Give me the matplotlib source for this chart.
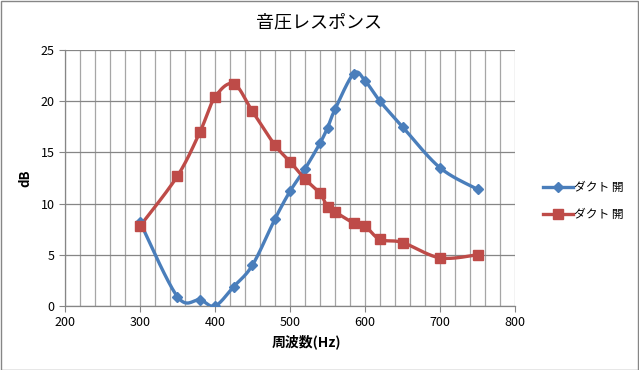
import numpy as np
import matplotlib
matplotlib.use("Agg")
import matplotlib.pyplot as plt
from matplotlib.ticker import MultipleLocator
from matplotlib.patches import Rectangle
from matplotlib.lines import Line2D

plt.rcParams['font.family'] = ['Noto Sans CJK JP', 'DejaVu Sans']

title = "音圧レスポンス"
xlabel = "周波数(Hz)"
ylabel = "dB"
series_names = ["ダクト 開", "ダクト 開"]

freq = [300, 350, 380, 400, 425, 450, 480, 500, 520, 540, 550, 560, 585, 600, 620, 650, 700, 750]
open_db = [8.2, 0.9, 0.6, 0.0, 1.9, 4.0, 8.5, 11.2, 13.4, 15.9, 17.4, 19.2, 22.7, 22.0, 20.0, 17.5, 13.5, 11.4]
closed_db = [7.8, 12.7, 17.0, 20.4, 21.7, 19.0, 15.7, 14.1, 12.4, 11.0, 9.7, 9.2, 8.1, 7.8, 6.5, 6.2, 4.7, 5.0]

colors = ["#4A7EBB", "#BE4B48"]
markers = ["D", "s"]
msizes = [5.5, 7.5]


def smooth(x, y, n=20):
    # Excel-style smoothed line: cubic Bezier with Catmull-Rom control points
    P = np.column_stack([x, y]).astype(float)
    out = []
    m = len(P)
    for i in range(m - 1):
        p0 = P[i - 1] if i > 0 else P[i]
        p1 = P[i]
        p2 = P[i + 1]
        p3 = P[i + 2] if i + 2 < m else P[i + 1]
        c1 = p1 + (p2 - p0) / 6.0
        c2 = p2 - (p3 - p1) / 6.0
        t = np.linspace(0, 1, n, endpoint=(i == m - 2))[:, None]
        seg = ((1 - t) ** 3) * p1 + 3 * ((1 - t) ** 2) * t * c1 + 3 * (1 - t) * t ** 2 * c2 + t ** 3 * p2
        out.append(seg)
    S = np.vstack(out)
    return S[:, 0], S[:, 1]


fig = plt.figure(figsize=(6.39, 3.70), dpi=100)
ax = fig.add_axes([65 / 639, 1 - 306 / 370, 450 / 639, 256 / 370])

ax.set_xlim(200, 800)
ax.set_ylim(0, 25)
ax.xaxis.set_major_locator(MultipleLocator(100))
ax.xaxis.set_minor_locator(MultipleLocator(20))
ax.yaxis.set_major_locator(MultipleLocator(5))

ax.grid(which='minor', axis='x', color='#A6A6A6', linewidth=0.9)
ax.grid(which='major', axis='x', color='#A6A6A6', linewidth=0.9)
ax.grid(which='major', axis='y', color='#868686', linewidth=0.9)
ax.set_axisbelow(True)

for s in ['top', 'right']:
    ax.spines[s].set_visible(False)
for s in ['left', 'bottom']:
    ax.spines[s].set_color('#868686')
    ax.spines[s].set_linewidth(0.9)

ax.tick_params(which='major', direction='out', length=4, color='#868686', labelsize=9, labelcolor='#000000')
ax.tick_params(which='minor', length=0)

for ys, c, mk, ms in zip([open_db, closed_db], colors, markers, msizes):
    sx, sy = smooth(freq, ys)
    ax.plot(sx, sy, color=c, linewidth=2.4, solid_capstyle='round', zorder=3)
    ax.plot(freq, ys, linestyle='none', marker=mk, markersize=ms, color=c, zorder=4)

fig.text(306 / 639, 1 - 342 / 370, xlabel, ha='center', va='center', fontsize=10, fontweight='bold')
fig.text(25 / 639, 1 - 178 / 370, ylabel, ha='center', va='center', fontsize=9.5, fontweight='bold', rotation=90)
fig.text(319 / 639, 1 - 22 / 370, title, ha='center', va='center', fontsize=13)

# legend
handles = [Line2D([0], [0], color=c, linewidth=2.4, marker=mk, markersize=ms)
           for c, mk, ms in zip(colors, markers, msizes)]
fig.legend(handles, series_names, loc='center left', bbox_to_anchor=(543 / 639, 1 - 201 / 370),
           frameon=False, fontsize=8.5, handlelength=2.55, labelspacing=1.15, handletextpad=0.1,
           borderpad=0, borderaxespad=0)

fig.patches.append(Rectangle((0.5 / 639, 0.5 / 370), 637.5 / 639, 368.5 / 370, transform=fig.transFigure,
                             fill=False, edgecolor='#868686', linewidth=1.0))

fig.savefig("out.png", dpi=100)
